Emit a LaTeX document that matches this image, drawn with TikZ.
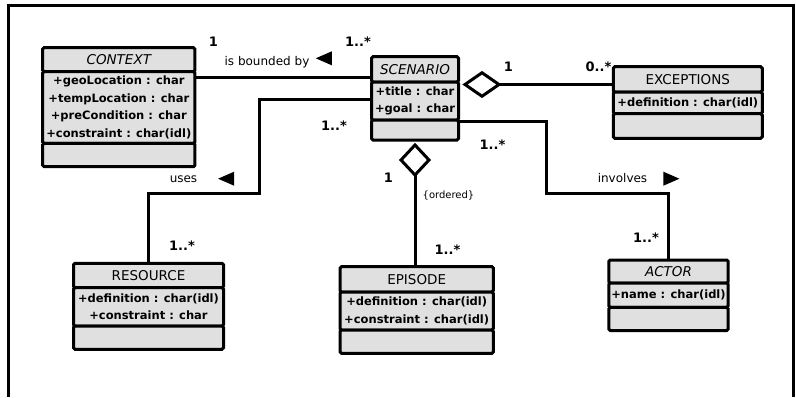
\documentclass[tikz,border=0pt]{standalone}
\usepackage{fontspec}
\setmainfont{DejaVu Sans}
\usetikzlibrary{positioning,shapes.geometric}

\tikzset{
  umlpart/.style={draw, line width=3pt, fill=black!12, rounded corners=1.5pt, outer sep=0pt, inner sep=1pt},
  umlhead/.style={umlpart, font=\fontsize{13.5}{16}\selectfont},
  umlattr/.style={umlpart, align=center, inner ysep=0pt, font=\bfseries\fontsize{11.5}{17.5}\selectfont},
  umlops/.style={umlpart},
  link/.style={line width=3pt},
  aggr/.style={diamond, draw, fill=white, line width=3pt, inner sep=0pt, outer sep=0pt},
  dirmark/.style={isosceles triangle, isosceles triangle stretches, fill=black, inner sep=0pt, minimum width=14, minimum height=16},
  mult/.style={font=\bfseries\fontsize{13}{15}\selectfont, inner sep=0pt, anchor=base},
  role/.style={font=\fontsize{12}{14}\selectfont, inner sep=0pt, anchor=base},
}

\begin{document}
\begin{tikzpicture}[x=1pt, y=-1pt]
\useasboundingbox (0,0) rectangle (796,397);
% frame, open at the bottom
\coordinate (frame-bl) at (8.5,397);
\coordinate (frame-tl) at (8.5,5);
\coordinate (frame-tr) at (793,5);
\coordinate (frame-br) at (793,397);
\draw[line width=3pt] (frame-bl) -- (frame-tl) -- (frame-tr) -- (frame-br);

% classes
\node[umlhead, minimum width=152.3, minimum height=24, anchor=north] (context) at (118.8,47.7) {\itshape CONTEXT};
\node[umlattr, minimum width=152.3, minimum height=71.6, below=0pt of context] (context-attr)
  {+geoLocation : char\\+tempLocation : char\\+preCondition : char\\+constraint : char(idl)};
\node[umlops, minimum width=152.3, minimum height=23.4, below=0pt of context-attr] (context-ops) {};

\node[umlhead, minimum width=87, minimum height=25.3, anchor=north] (scenario) at (415,56.7) {\itshape SCENARIO};
\node[umlattr, minimum width=87, minimum height=38, below=0pt of scenario] (scenario-attr) {+title : char\\+goal : char};
\node[umlops, minimum width=87, minimum height=20, below=0pt of scenario-attr] (scenario-ops) {};

\node[umlhead, minimum width=149, minimum height=25.3, anchor=north] (exceptions) at (687.8,66.7) {EXCEPTIONS};
\node[umlattr, minimum width=149, minimum height=21.7, below=0pt of exceptions] (exceptions-attr) {+definition : char(idl)};
\node[umlops, minimum width=149, minimum height=24.6, below=0pt of exceptions-attr] (exceptions-ops) {};

\node[umlhead, minimum width=150, minimum height=24.4, anchor=north] (resource) at (148.5,263.3) {RESOURCE};
\node[umlattr, minimum width=150, minimum height=38.3, below=0pt of resource] (resource-attr) {+definition : char(idl)\\+constraint : char};
\node[umlops, minimum width=150, minimum height=23.3, below=0pt of resource-attr] (resource-ops) {};

\node[umlhead, minimum width=153.3, minimum height=25.3, anchor=north] (episode) at (416.7,266.7) {EPISODE};
\node[umlattr, minimum width=153.3, minimum height=38, below=0pt of episode] (episode-attr) {+definition : char(idl)\\+constraint : char(idl)};
\node[umlops, minimum width=153.3, minimum height=23.3, below=0pt of episode-attr] (episode-ops) {};

\node[umlhead, minimum width=119.3, minimum height=23, anchor=north] (actor) at (668.5,260) {\itshape ACTOR};
\node[umlattr, minimum width=119.3, minimum height=24.3, below=0pt of actor] (actor-attr) {+name : char(idl)};
\node[umlops, minimum width=119.3, minimum height=23.4, below=0pt of actor-attr] (actor-ops) {};

% aggregation diamonds
\node[aggr, minimum width=34, minimum height=23.5, anchor=west, xshift=6.5] (exc-aggr) at (scenario.east |- 0,84.5) {};
\node[aggr, minimum width=28, minimum height=30, anchor=north, yshift=-5] (epi-aggr) at (scenario-ops.south) {};

% connectors
\coordinate (uses-turn) at (259,193.3);
\coordinate (involves-turn) at (546.7,193.3);
\draw[link] (context-attr.north east |- 0,77.7) -- (scenario.west |- 0,77.7);
\draw[link] (exc-aggr.east) -- (exc-aggr.east -| exceptions.west);
\draw[link] (epi-aggr.south) -- (epi-aggr.south |- episode.north);
\draw[link] (scenario-attr.west |- 0,99) -| (uses-turn) -| (resource.north);
\draw[link] (scenario-ops.east |- 0,121.7) -| (involves-turn) -| (actor.north);

% multiplicities
\foreach \n/\p/\t in {m-ctx/{213.5,46.7}/1, m-scn-top/{358,46.7}/{1..*}, m-scn-left/{334,130}/{1..*},
  m-agg-epi/{388.5,182.7}/1, m-agg-exc/{508.5,71.7}/1, m-exc/{598.5,71.7}/{0..*},
  m-scn-right/{492.5,149}/{1..*}, m-res/{182,250.7}/{1..*}, m-epi/{447.5,254}/{1..*}, m-act/{646,242.7}/{1..*}}
  \node[mult] (\n) at (\p) {\t};

% role names and reading directions
\node[role] (bounded) at (267,65) {is bounded by};
\node[role] (uses) at (183.5,182.7) {uses};
\node[role] (involves) at (622.5,182.7) {involves};
\node[role, font=\fontsize{10}{12}\selectfont] (ordered) at (448.5,198) {\{ordered\}};
\node[dirmark, shape border rotate=180] (bounded-dir) at (327.2,58.3) {};
\node[dirmark, shape border rotate=180] (uses-dir) at (229.5,178.7) {};
\node[dirmark] (involves-dir) at (668,178.7) {};
\end{tikzpicture}
\end{document}
